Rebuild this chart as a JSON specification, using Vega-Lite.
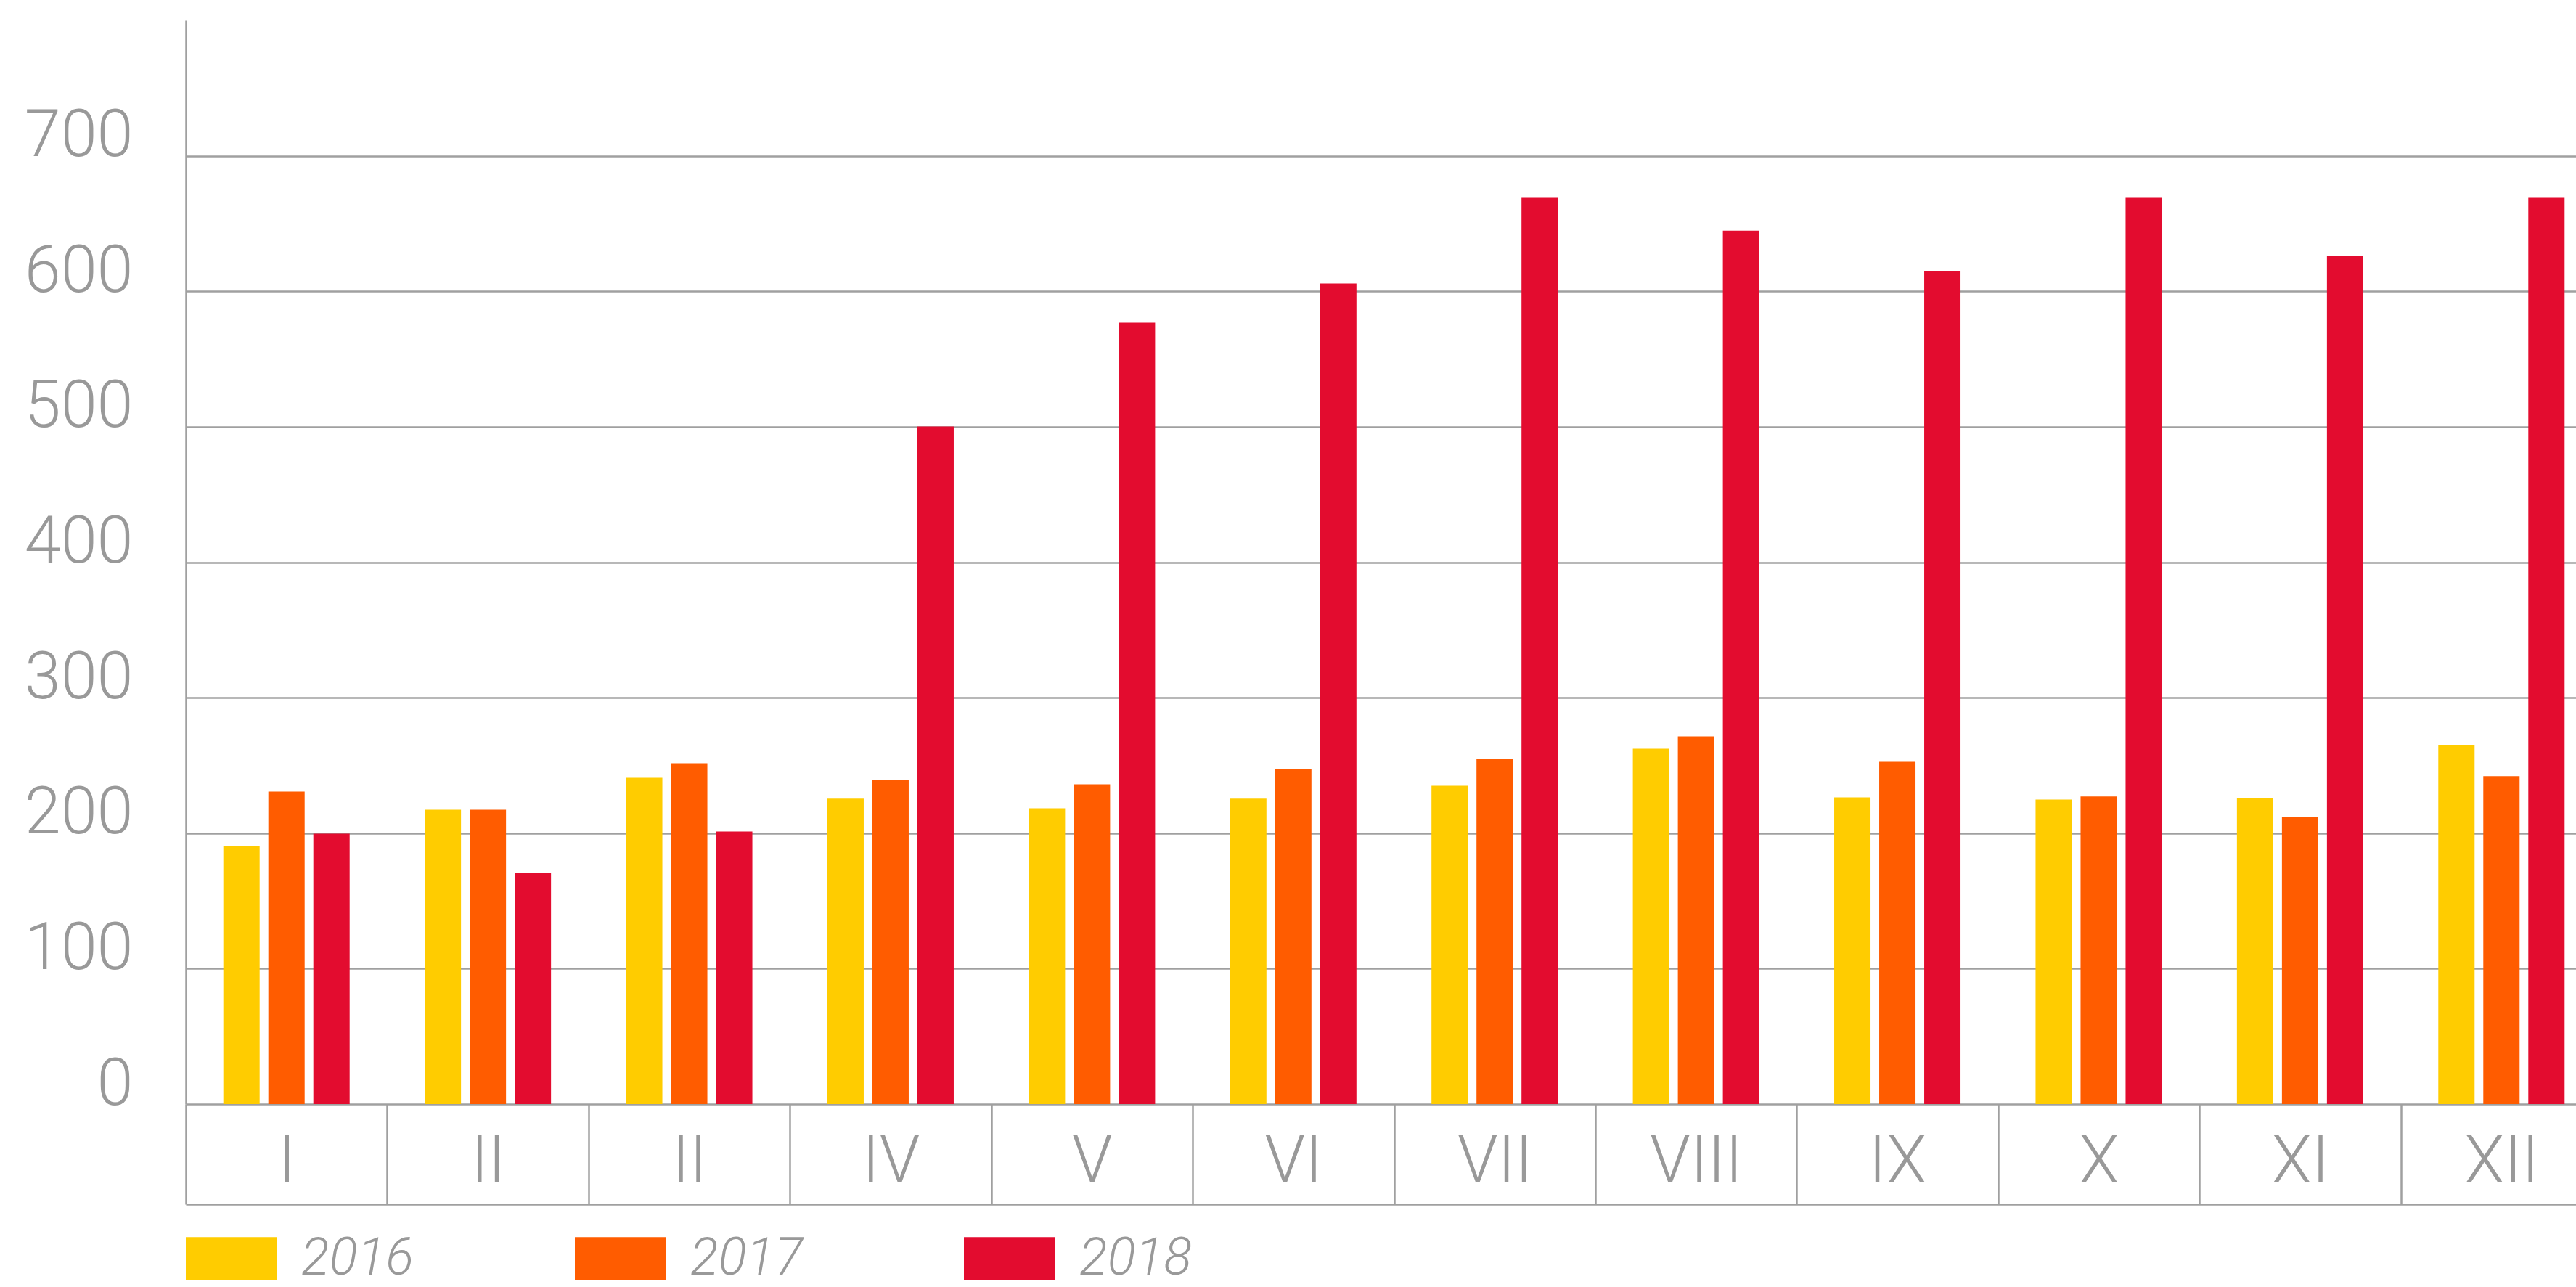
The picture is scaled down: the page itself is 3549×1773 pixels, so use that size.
{
  "$schema": "https://vega.github.io/schema/vega-lite/v6.json",
  "autosize": {"type": "none"},
  "padding": {"left": 256, "top": 28, "right": 0, "bottom": 252},
  "width": 3293,
  "height": 1493,
  "background": "white",
  "config": {
    "view": {"stroke": null},
    "font": "Roboto"
  },
  "data": {
    "values": [
      {"month": 1, "year": "2016", "value": 190.5},
      {"month": 1, "year": "2017", "value": 230.7},
      {"month": 1, "year": "2018", "value": 199.6},
      {"month": 2, "year": "2016", "value": 217.3},
      {"month": 2, "year": "2017", "value": 217.3},
      {"month": 2, "year": "2018", "value": 170.7},
      {"month": 3, "year": "2016", "value": 240.9},
      {"month": 3, "year": "2017", "value": 251.6},
      {"month": 3, "year": "2018", "value": 201.2},
      {"month": 4, "year": "2016", "value": 225.4},
      {"month": 4, "year": "2017", "value": 239.3},
      {"month": 4, "year": "2018", "value": 500.2},
      {"month": 5, "year": "2016", "value": 218.4},
      {"month": 5, "year": "2017", "value": 236.1},
      {"month": 5, "year": "2018", "value": 576.8},
      {"month": 6, "year": "2016", "value": 225.4},
      {"month": 6, "year": "2017", "value": 247.3},
      {"month": 6, "year": "2018", "value": 605.7},
      {"month": 7, "year": "2016", "value": 235.0},
      {"month": 7, "year": "2017", "value": 254.8},
      {"month": 7, "year": "2018", "value": 669.0},
      {"month": 8, "year": "2016", "value": 262.3},
      {"month": 8, "year": "2017", "value": 271.4},
      {"month": 8, "year": "2018", "value": 644.8},
      {"month": 9, "year": "2016", "value": 226.4},
      {"month": 9, "year": "2017", "value": 252.7},
      {"month": 9, "year": "2018", "value": 614.8},
      {"month": 10, "year": "2016", "value": 224.8},
      {"month": 10, "year": "2017", "value": 227.0},
      {"month": 10, "year": "2018", "value": 669.0},
      {"month": 11, "year": "2016", "value": 225.9},
      {"month": 11, "year": "2017", "value": 212.0},
      {"month": 11, "year": "2018", "value": 626.0},
      {"month": 12, "year": "2016", "value": 265.0},
      {"month": 12, "year": "2017", "value": 242.0},
      {"month": 12, "year": "2018", "value": 669.0}
    ]
  },
  "mark": {"type": "bar", "clip": true},
  "encoding": {
    "x": {
      "field": "month",
      "type": "ordinal",
      "scale": {"range": [0, 3329], "paddingInner": 0, "paddingOuter": 0},
      "axis": {
        "title": null,
        "orient": "bottom",
        "offset": 138,
        "domainColor": "#a0a0a0",
        "domainWidth": 2.5,
        "tickBand": "extent",
        "tickSize": -138,
        "tickColor": "#a0a0a0",
        "tickWidth": 2.5,
        "labelAngle": 0,
        "labelFont": "Roboto",
        "labelFontWeight": 300,
        "labelFontSize": 90,
        "labelColor": "#999999",
        "labelBaseline": "alphabetic",
        "labelPadding": 107,
        "labelExpr": "['I','II','II','IV','V','VI','VII','VIII','IX','X','XI','XII'][datum.value - 1]"
      }
    },
    "xOffset": {
      "field": "year",
      "type": "nominal",
      "scale": {"paddingInner": 0.1935, "paddingOuter": 0.8338}
    },
    "y": {
      "field": "value",
      "type": "quantitative",
      "scale": {"domain": [0, 800], "nice": false},
      "axis": {
        "title": null,
        "values": [0, 100, 200, 300, 400, 500, 600, 700],
        "ticks": false,
        "domainColor": "#a0a0a0",
        "domainWidth": 2.5,
        "grid": true,
        "gridColor": "#a0a0a0",
        "gridWidth": 2.5,
        "labelFont": "Roboto",
        "labelFontWeight": 300,
        "labelFontSize": 90,
        "labelColor": "#999999",
        "labelBaseline": "alphabetic",
        "labelPadding": 73
      }
    },
    "color": {
      "field": "year",
      "type": "nominal",
      "scale": {"domain": ["2016", "2017", "2018"], "range": ["#FFCC00", "#FF5C00", "#E30C2F"]},
      "legend": {
        "title": null,
        "orient": "none",
        "legendX": 0,
        "legendY": 1643,
        "direction": "horizontal",
        "columns": 3,
        "symbolType": "M-1,-0.472L1,-0.472L1,0.472L-1,0.472Z",
        "symbolSize": 15625,
        "symbolStrokeWidth": 0,
        "symbolOpacity": 1,
        "labelFont": "Roboto",
        "labelFontStyle": "italic",
        "labelFontWeight": 300,
        "labelFontSize": 72,
        "labelColor": "#999999",
        "labelOffset": 34,
        "columnPadding": 222,
        "padding": 0
      }
    }
  }
}
